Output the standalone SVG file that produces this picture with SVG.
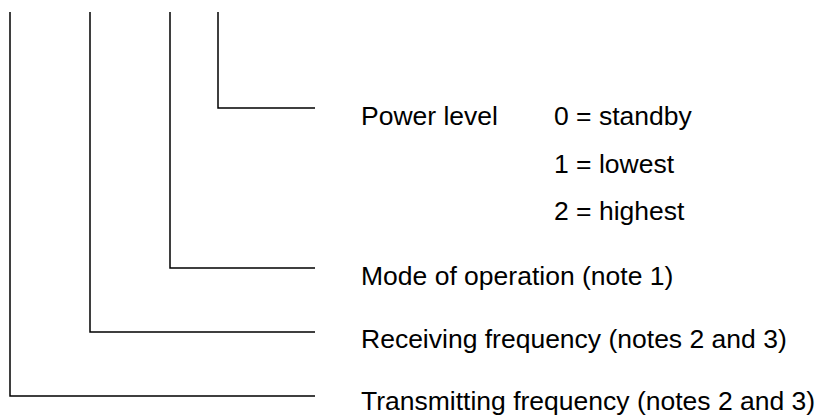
<svg xmlns="http://www.w3.org/2000/svg" width="822" height="416" viewBox="0 0 822 416">
<style>
.ln{fill:none;stroke:#000;stroke-width:1.5}
.t{font-family:"Liberation Sans",Arial,sans-serif;font-size:26.5px;fill:#000}
</style>
<rect width="822" height="416" fill="#fff"/>
<g id="connectors">
<path class="ln" d="M218,12 V108 H315"/>
<path class="ln" d="M170,12 V268 H315"/>
<path class="ln" d="M90,12 V332 H315"/>
<path class="ln" d="M10,12 V396 H315"/>
</g>
<g id="power-level">
<text class="t" x="361" y="125">Power level</text>
<text class="t" x="554" y="125">0 = standby</text>
<text class="t" x="554" y="173">1 = lowest</text>
<text class="t" x="554" y="220">2 = highest</text>
</g>
<g id="mode"><text class="t" x="361" y="285">Mode of operation (note 1)</text></g>
<g id="receiving"><text class="t" x="361" y="348">Receiving frequency (notes 2 and 3)</text></g>
<g id="transmitting"><text class="t" x="361" y="410">Transmitting frequency (notes 2 and 3)</text></g>
</svg>
